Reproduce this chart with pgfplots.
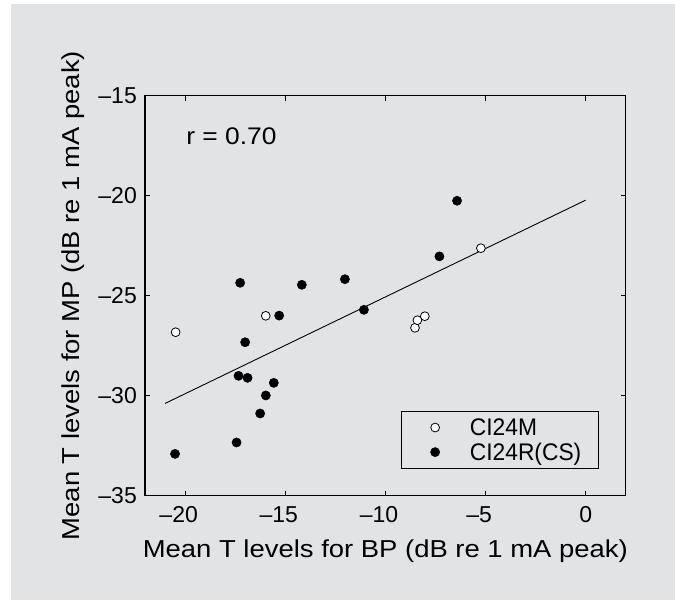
\documentclass[border=0pt]{standalone}
\usepackage{pgfplots}
\pgfplotsset{compat=1.18}
\usepackage{fontspec}
\setmainfont{Liberation Sans}
\newfontfamily\labfont{Liberation Sans}[FakeStretch=1.12]
\newfontfamily\legfont{Liberation Sans}[FakeStretch=0.95]
\newfontfamily\rfont{Liberation Sans}[FakeStretch=1.1]
\definecolor{bggray}{RGB}{226,227,229}

\begin{document}
\begin{tikzpicture}
\fill[white] (0pt,0pt) rectangle (675pt,-600pt);
\fill[bggray] (11pt,-4pt) rectangle (675pt,-600pt);
\begin{axis}[
  at={(145pt,-95.5pt)}, anchor=north west,
  scale only axis, width=480.7pt, height=400.2pt,
  xmin=-22, xmax=2, ymin=-35, ymax=-15,
  axis line style={line width=1.1pt},
  tick align=inside, major tick length=5pt,
  tick style={line width=0.9pt, black},
  xtick={-20,-15,-10,-5,0},
  xticklabels={\llap{–}20,\llap{–}15,\llap{–}10,\llap{–}5,0},
  ytick={-35,-30,-25,-20,-15},
  yticklabels={–35,–30,–25,–20,–15},
  xticklabel style={font=\fontsize{23}{26}\selectfont, inner sep=0pt, anchor=north, yshift=-11pt},
  yticklabel style={font=\fontsize{23}{26}\selectfont, inner sep=0pt, anchor=east, xshift=-8pt},
  xlabel={Mean T levels for BP (dB re 1 mA peak)},
  xlabel style={font=\labfont\fontsize{24.5}{28}\selectfont, at={(axis description cs:0.5,-0.155)}, anchor=base, inner sep=0pt},
  ylabel={Mean T levels for MP (dB re 1 mA peak)},
  ylabel style={font=\labfont\fontsize{24.5}{28}\selectfont, at={(axis description cs:-0.137,0.5)}, anchor=base, inner sep=0pt},
  legend style={at={(axis description cs:0.944,0.0667)}, anchor=south east, draw=black, line width=0.9pt, fill=none,
    font=\legfont\fontsize{24}{28}\selectfont, inner xsep=17pt, inner ysep=7pt, row sep=6pt, nodes={inner sep=0pt}},
  legend cell align=left,
  legend image code/.code={\path[draw=none] (0pt,0pt) -- (51pt,0pt); \draw[#1] plot coordinates {(16.3pt,0pt)};},
]
\addplot[forget plot, black, line width=0.9pt] coordinates {(-21,-30.39) (0,-20.23)};
\addplot[only marks, mark=*, mark size=4.4pt, mark options={draw=black, fill=white, line width=0.8pt}] coordinates {
(-20.47,-26.83) (-15.97,-26.01) (-8.52,-26.61) (-8.40,-26.23) (-8.03,-26.03) (-5.23,-22.63)};
\addlegendentry{CI24M}
\addplot[only marks, mark=*, mark size=4.6pt, mark options={draw=black, fill=black, line width=0.5pt}] coordinates {
(-6.42,-20.26) (-7.30,-23.04) (-12.02,-24.18) (-11.07,-25.71) (-14.17,-24.46)
(-17.25,-24.36) (-15.30,-26.00) (-17.00,-27.33) (-17.33,-29.01) (-16.88,-29.11)
(-15.57,-29.36) (-15.97,-29.99) (-16.25,-30.89) (-17.43,-32.34) (-20.50,-32.91)};
\addlegendentry{CI24R(CS)}
\node[anchor=base west, font=\rfont\fontsize{24}{28}\selectfont, inner sep=0pt] at (axis cs:-19.95,-17.43) {r = 0.70};
\end{axis}
\pgfresetboundingbox
\useasboundingbox (0pt,0pt) rectangle (675pt,-600pt);
\end{tikzpicture}
\end{document}
